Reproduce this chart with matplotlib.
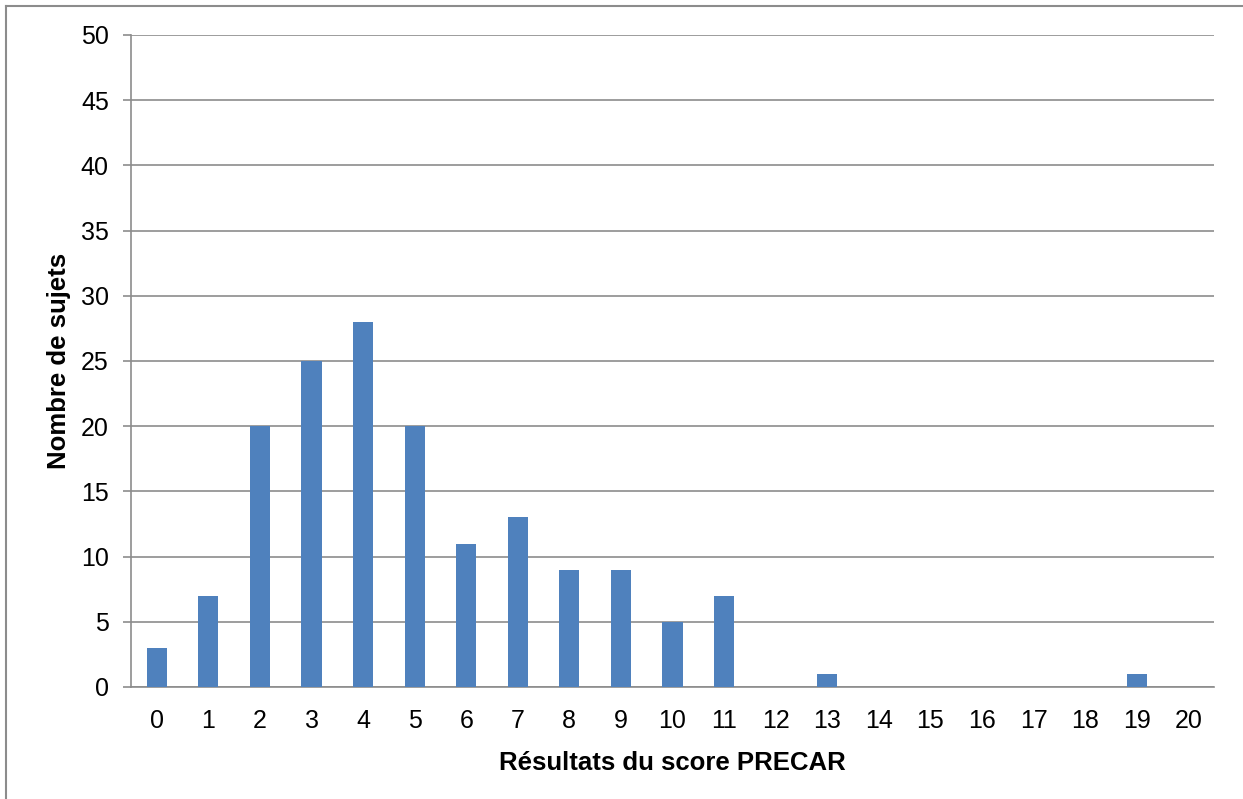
import matplotlib.pyplot as plt
from matplotlib.lines import Line2D

plt.rcParams['font.family'] = ['Liberation Sans', 'DejaVu Sans']

scores = list(range(21))
counts = [3, 7, 20, 25, 28, 20, 11, 13, 9, 9, 5, 7, 0, 1, 0, 0, 0, 0, 0, 1, 0]
y_ticks = [0, 5, 10, 15, 20, 25, 30, 35, 40, 45, 50]

BAR_COLOR = '#4F81BD'
GRID_COLOR = '#8C8C8C'

fig = plt.figure(figsize=(12.43, 7.99), dpi=100)
ax = fig.add_axes([131 / 1243, 1 - 687 / 799, (1214 - 131) / 1243, (687 - 35) / 799])

ax.bar(scores, counts, width=0.39, color=BAR_COLOR, zorder=3)

ax.set_xlim(-0.5, 20.5)
ax.set_ylim(0, 50)
ax.set_yticks(y_ticks)
ax.set_xticks(scores)
ax.tick_params(axis='y', length=6, width=1.2, color=GRID_COLOR, labelsize=18, pad=10)
ax.tick_params(axis='x', length=0, labelsize=18, pad=16)
ax.grid(axis='y', color=GRID_COLOR, linewidth=1.2, zorder=0)

for side in ['top', 'right']:
    ax.spines[side].set_visible(False)
for side in ['left', 'bottom']:
    ax.spines[side].set_color(GRID_COLOR)
    ax.spines[side].set_linewidth(1.2)

ax.set_xlabel('Résultats du score PRECAR', fontsize=18.5, fontweight='bold', labelpad=13)
ax.set_ylabel('Nombre de sujets', fontsize=18.5, fontweight='bold', labelpad=7)

# outer chart border (only the left and top edges are visible)
fig.add_artist(Line2D([6 / 1243, 6 / 1243], [0, 1 - 6 / 799], color='#8C8C8C', lw=1.5))
fig.add_artist(Line2D([6 / 1243, 1], [1 - 6 / 799, 1 - 6 / 799], color='#8C8C8C', lw=1.5))

fig.savefig('out.png', dpi=100)
